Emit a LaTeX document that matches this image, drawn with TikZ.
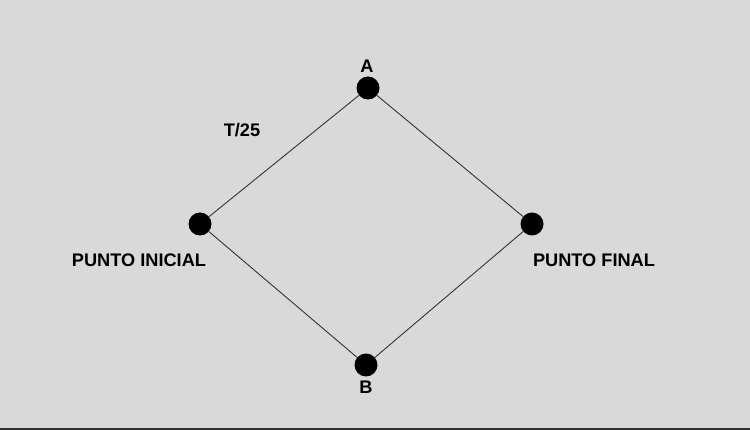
\documentclass[tikz,border=0pt]{standalone}
\usepackage{fontspec}
\setmainfont{Liberation Sans}
\definecolor{Paper}{RGB}{217, 217, 217}
\definecolor{Edge}{RGB}{51, 51, 51}

\begin{document}
\begin{tikzpicture}[
    x=1pt, y=-1pt,
    point/.style={circle, fill=black, draw=none, inner sep=0pt, minimum size=23pt},
    path line/.style={draw=Edge, line width=0.9pt},
    tag/.style={font=\fontsize{18.2}{21}\selectfont\bfseries, text=black, inner sep=0pt},
    ]
    % background
    \fill[Paper] (0, 0) rectangle (750, 430);
    \fill[Edge] (0, 427.5) rectangle (750, 430);
    \useasboundingbox (0, 0) rectangle (750, 430);

    % points
    \foreach \name/\x/\y in {ini/200/224, a/368/88, fin/532/224, b/366/365}
    \node [point] (\name) at (\x, \y) {};

    % paths
    \draw[path line] (ini) -- (a) -- (fin) -- (b) -- (ini);

    % labels
    \node [tag] (la) at (367, 66) {A};
    \node [tag] (lb) at (366, 387) {B};
    \node [tag] (lt) at (242, 130) {T/25};
    \node [tag] (lini) at (139, 260) {PUNTO INICIAL};
    \node [tag] (lfin) at (594, 260) {PUNTO FINAL};
\end{tikzpicture}
\end{document}
